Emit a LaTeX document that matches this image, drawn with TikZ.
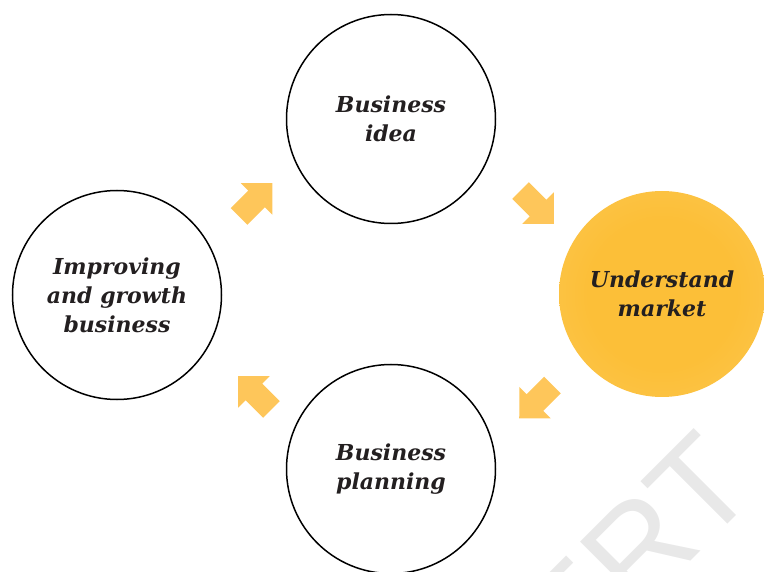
\documentclass[tikz,border=0pt]{standalone}
\usepackage{fontspec}
\newfontfamily\stagefont{DejaVu Serif}
\newfontfamily\markfont{Liberation Sans}
\usetikzlibrary{shapes.arrows,positioning}

\definecolor{inkdark}{RGB}{35,31,32}
\definecolor{arrowgold}{RGB}{254,198,90}
\definecolor{mktcore}{RGB}{252,191,56}
\definecolor{mktedge}{RGB}{254,232,178}
\pgfdeclareradialshading{marketglow}{\pgfpoint{0bp}{0bp}}{color(0bp)=(mktcore); color(18bp)=(mktcore); color(36bp)=(mktcore!80!mktedge); color(50bp)=(mktedge); color(100bp)=(mktedge)}

\tikzset{
  stage/.style={circle, draw=black, line width=1.5pt, minimum size=209pt, inner sep=0pt,
    align=center, text=inkdark, font=\stagefont\bfseries\itshape\fontsize{22}{29}\selectfont},
  market stage/.style={stage, draw=none, shading=marketglow, minimum size=206pt},
  flow arrow/.style={single arrow, fill=arrowgold, draw=none, inner xsep=0pt, inner ysep=11.5pt,
    minimum height=47pt, single arrow head extend=10.5pt},
  watermark/.style={inner sep=0pt, text=black!9, font=\markfont\fontsize{133}{133}\selectfont}
}

\begin{document}
\begin{tikzpicture}[x=1pt,y=-1pt]
  \useasboundingbox (0,0) rectangle (764,572);
  \clip (0,0) rectangle (764,572);
  \node[watermark, rotate=45, anchor=base east] (mark) at (761,491) {NCERT};

  % the four stages
  \node[stage] (idea) at (391,119) {Business\\idea};
  \node[market stage] (market) at (662,294) {Understand\\market};
  \node[stage] (planning) at (391,469) {Business\\planning};
  \node[stage] (improve) at (117,295) {Improving\\and growth\\business};

  % arrows between stages
  \node[flow arrow, rotate=-45] (tomarket) at (533,203) {};
  \node[flow arrow, rotate=-135] (toplanning) at (540,397.5) {};
  \node[flow arrow, rotate=135] (toimprove) at (259,397) {};
  \node[flow arrow, rotate=45] (toidea) at (251.5,204) {};
\end{tikzpicture}
\end{document}
